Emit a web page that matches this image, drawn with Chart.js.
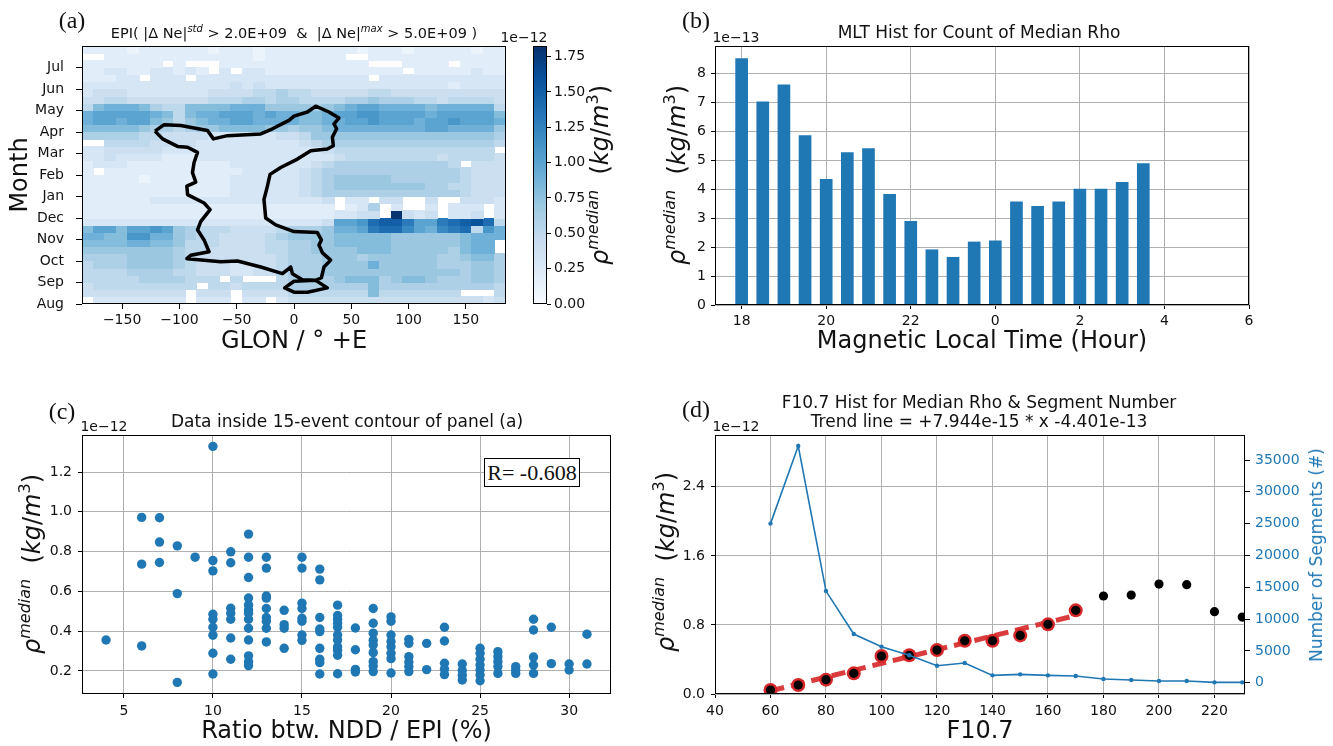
<!DOCTYPE html>
<html>
<head>
<meta charset="utf-8">
<script src="https://cdn.jsdelivr.net/npm/chart.js@4.4.1/dist/chart.umd.min.js"></script>
<style>
  body { margin: 0; background: #fff; font-family: 'DejaVu Sans', sans-serif; color: #111; }
  #fig { position: relative; width: 1333px; height: 746px; overflow: hidden; }
  canvas { position: absolute; }
  .txt { position: absolute; white-space: nowrap; transform: translate(-50%, -50%); }
  .rot { position: absolute; white-space: nowrap; transform: translate(-50%, -50%) rotate(-90deg); }
  .panel { font-family: 'Liberation Serif', 'Times New Roman', serif; font-size: 24px; }
  .ttl { font-size: 17px; }
  .off { font-size: 14px; }
  .rho { font-size: 24px; }
  .rho sup { font-size: 16px; font-style: italic; vertical-align: 0.6em; line-height: 0; }
  .sup { font-size: 10px; font-style: italic; vertical-align: 0.6em; line-height: 0; }
  .rbox { position: absolute; left: 484px; top: 458px; width: 94px; height: 27px; border: 1.5px solid #000;
          font-family: 'Liberation Serif', serif; font-size: 22px; line-height: 27px; text-align: center; background: #fff; }
</style>
</head>
<body>
<div id="fig">
  <canvas id="heat" width="520" height="360" style="left:0;top:0"></canvas>
  <canvas id="cbar" width="140" height="345" style="left:520px;top:0"></canvas>
  <canvas id="mlt" width="673" height="360" style="left:660px;top:0"></canvas>
  <canvas id="ratio" width="660" height="366" style="left:0;top:380px"></canvas>
  <canvas id="f107" width="673" height="366" style="left:660px;top:380px"></canvas>

  <div class="txt panel" style="left:72px;top:20px">(a)</div>
  <div class="txt panel" style="left:696px;top:20px">(b)</div>
  <div class="txt panel" style="left:62px;top:411px">(c)</div>
  <div class="txt panel" style="left:696px;top:409px">(d)</div>

  <div class="txt" style="left:294px;top:33px;font-size:14.5px">EPI( |Δ Ne|<span class="sup">std</span> &gt; 2.0E+09 &nbsp;&amp; &nbsp;|Δ Ne|<span class="sup">max</span> &gt; 5.0E+09 )</div>
  <div class="txt ttl" style="left:979px;top:32px">MLT Hist for Count of Median Rho</div>
  <div class="txt ttl" style="left:347px;top:421px">Data inside 15-event contour of panel (a)</div>
  <div class="txt ttl" style="left:979px;top:402px">F10.7 Hist for Median Rho &amp; Segment Number</div>
  <div class="txt ttl" style="left:979px;top:421px">Trend line = +7.944e-15 * x -4.401e-13</div>

  <div class="txt off" style="left:524px;top:37px">1e−12</div>
  <div class="txt off" style="left:736px;top:37px">1e−13</div>
  <div class="txt off" style="left:104px;top:426px">1e−12</div>
  <div class="txt off" style="left:736px;top:426px">1e−12</div>

  <div class="rot rho" style="left:600px;top:175px"><i>ρ</i><sup>median</sup>&nbsp;&nbsp;(<i>kg</i>/<i>m</i><sup style="font-style:normal">3</sup>)</div>
  <div class="rot rho" style="left:677px;top:175px"><i>ρ</i><sup>median</sup>&nbsp;&nbsp;(<i>kg</i>/<i>m</i><sup style="font-style:normal">3</sup>)</div>
  <div class="rot rho" style="left:32px;top:564px"><i>ρ</i><sup>median</sup>&nbsp;&nbsp;(<i>kg</i>/<i>m</i><sup style="font-style:normal">3</sup>)</div>
  <div class="rot rho" style="left:666px;top:562px"><i>ρ</i><sup>median</sup>&nbsp;&nbsp;(<i>kg</i>/<i>m</i><sup style="font-style:normal">3</sup>)</div>
  <div class="rot" style="left:1316px;top:555px;font-size:17px;color:#1f77b4">Number of Segments (#)</div>

  <div class="rbox">R= -0.608</div>
</div>

<script>
// ---------- panel (a): median rho by longitude / month ----------
const monthNames = ['Aug', 'Sep', 'Oct', 'Nov', 'Dec', 'Jan', 'Feb', 'Mar', 'Apr', 'May', 'Jun', 'Jul'];
const monthTicks = [0, 1, 2, 3, 4, 5, 6, 7, 8, 9, 10, 11];
const lonCenters = [-180, -170, -160, -150, -140, -130, -120, -110, -100, -90, -80, -70, -60, -50, -40, -30, -20, -10,
                    0, 10, 20, 30, 40, 50, 60, 70, 80, 90, 100, 110, 120, 130, 140, 150, 160, 170, 180];
const lonTicks = [-150, -100, -50, 0, 50, 100, 150];
const cbarTicks = [0, 0.25, 0.5, 0.75, 1.0, 1.25, 1.5, 1.75];
const rhoMax = 1.825;

// one string per 10-day row, bottom (Aug) first; char = rho*10 (a=1.0 ... i=1.8), '.' = no data
const rhoGrid = [
  '.33333333 .333.33.3 444444444 444444443 4',
  '444444444 .444.4444 555555585 555555... 5',
  '455555555 5.5545555 666666686 666666666 5',
  '555556666 555.5...5 666678886 788766677 6',
  '555566665 544433445 666777777 777777677 6',
  '566677776 544433445 666777797 777766677 6',
  '666677776 544444445 666777677 777766788 6',
  '777777776 554444455 667777888 777776899 .',
  '888899887 555444455 667788888 777777899 .',
  '9988bb997 655444456 777788888 777777899 9',
  '8aa8aaba7 655544445 666799ade eca9cde5b 9',
  '333333333 333333333 3334aabef fdaadefge 5',
  '222222222 222222222 22223344. i434.334. 3',
  '222222222 222222222 2222.236. 3..3.333. 3',
  '222222333 333333333 3334.33.4 4..4..444 3',
  '222222222 222233333 345666666 666666544 4',
  '222222222 222233333 345677777 777665544 4',
  '222221222 222233333 345677777 666666544 4',
  '2.2222222 222223333 345666666 666666544 4',
  '233322222 222233333 334566666 666665.44 4',
  '334333322 233333333 333345555 555545555 4',
  '334444433 333333333 333455555 555555555 .',
  '..5555444 433333333 345666666 666666666 5',
  '666665544 443333334 457777777 777777777 6',
  '888887665 677888877 677899999 999aa9999 7',
  '9aa9aa875 7899aa999 98899aaba aa9aabaaa 9',
  '9aaaaa985 899aaa9a9 9889aabba aaa9aaaaa 8',
  '589998655 888899977 776789aa9 999899999 5',
  '445544444 445556656 655556676 665545555 4',
  '344433333 334444556 554444455 444444444 4',
  '333333333 333343433 333333333 333332333 3',
  '22233.333 .33333333 3333333.3 333333333 3',
  '223322332 32.3.3322 222222222 2.2222232 2',
  '2222222.2 ...222222 2222222.. .2222.222 2',
  '..2222222 222222122 22222..22 222222222 2',
  '222212222 221222122 222222122 212222212 2'
];

// 15-event contour (lon, month)
const contourLon = [-121.3, -113.3, -98.8, -75.5, -70.3, -58.1, -29.0, -18.8, -4.4, 0, 11.7, 18.9, 30.5, 39.2, 34.9, 37.2,
  33.5, 34.3, 29.1, 14.6, 3.0, -11.6, -20.9, -23.2, -26.2, -24.7, -16.0, 0, 20.4, 23.9, 21.8, 24.8, 32.0, 26.2, 23.9, 18.9,
  29.1, 11.7, 0, -8.1, 0, 18.9, 7.3, -1.4, -2.9, -10.1, -29.0, -49.3, -63.9, -85.7, -93.5, -90.1, -74.1, -78.5, -84.2,
  -81.3, -73.2, -78.5, -92.9, -93.5, -85.7, -88.6, -87.2, -84.2, -92.9, -101.6, -114.7, -121.3];
const contourMonth = [8.04, 8.34, 8.30, 8.07, 7.68, 7.83, 7.91, 8.15, 8.54, 8.74, 8.93, 9.20, 8.93, 8.65, 8.38, 8.15,
  7.76, 7.36, 7.21, 7.13, 6.74, 6.35, 6.03, 5.48, 4.86, 4.00, 3.68, 3.37, 3.32, 2.98, 2.74, 2.38, 2.04, 1.72, 1.22, 1.10,
  0.75, 0.55, 0.55, 0.75, 1.06, 1.10, 1.13, 1.41, 1.72, 1.41, 1.72, 2.00, 1.96, 2.07, 2.11, 2.27, 2.43, 2.98, 3.45,
  3.84, 4.39, 4.70, 5.09, 5.48, 5.67, 6.11, 6.58, 7.05, 7.29, 7.33, 7.68, 8.04];

// ---------- panel (b): MLT ----------
const mltHour = [18, 18.5, 19, 19.5, 20, 20.5, 21, 21.5, 22, 22.5, 23, 23.5, 24, 24.5, 25, 25.5, 26, 26.5, 27, 27.5];
const mltRho = [8.53, 7.03, 7.62, 5.87, 4.35, 5.28, 5.42, 3.84, 2.90, 1.92, 1.66, 2.19, 2.23, 3.58, 3.42, 3.58, 4.02, 4.02, 4.25, 4.90];
const mltTicks = [18, 20, 22, 24, 26, 28, 30];
const mltYTicks = [0, 1, 2, 3, 4, 5, 6, 7, 8];

// ---------- panel (c): ratio scatter ----------
const ratioPct = [4, 6, 7, 8, 9, 10, 11, 12, 13, 14, 15, 16, 17, 18, 19, 20, 21, 22, 23, 24, 25, 26, 27, 28, 29, 30, 31];
const rhoAtRatio = [
  [0.356],
  [0.972, 0.737, 0.326],
  [0.97, 0.848, 0.745],
  [0.829, 0.589, 0.143],
  [0.772],
  [1.329, 0.755, 0.703, 0.485, 0.46, 0.42, 0.38, 0.289, 0.185],
  [0.799, 0.744, 0.515, 0.49, 0.46, 0.366, 0.259],
  [0.888, 0.772, 0.67, 0.567, 0.532, 0.507, 0.49, 0.46, 0.415, 0.356, 0.276, 0.247, 0.227],
  [0.772, 0.717, 0.577, 0.566, 0.514, 0.469, 0.45, 0.415, 0.346],
  [0.505, 0.433, 0.415, 0.314],
  [0.772, 0.717, 0.541, 0.514, 0.465, 0.45, 0.381, 0.354],
  [0.712, 0.658, 0.469, 0.411, 0.398, 0.314, 0.259, 0.242, 0.185],
  [0.531, 0.479, 0.46, 0.44, 0.42, 0.381, 0.356, 0.321, 0.304, 0.279, 0.186],
  [0.416, 0.307, 0.208, 0.195],
  [0.514, 0.44, 0.39, 0.354, 0.331, 0.292, 0.247, 0.225, 0.197],
  [0.472, 0.45, 0.381, 0.348, 0.322, 0.289, 0.262, 0.19],
  [0.359, 0.339, 0.272, 0.245, 0.222, 0.197],
  [0.339, 0.207],
  [0.42, 0.351, 0.239, 0.21, 0.182],
  [0.235, 0.202, 0.178, 0.155],
  [0.314, 0.289, 0.259, 0.23, 0.205, 0.18, 0.151],
  [0.297, 0.272, 0.247, 0.222, 0.188],
  [0.222, 0.205, 0.188],
  [0.46, 0.406, 0.27, 0.23, 0.188],
  [0.42, 0.237],
  [0.235, 0.205],
  [0.385, 0.235]
];
const ratioTicks = [5, 10, 15, 20, 25, 30];
const ratioYTicks = [0.2, 0.4, 0.6, 0.8, 1.0, 1.2];

// ---------- panel (d): F10.7 ----------
const f107 = [60, 70, 80, 90, 100, 110, 120, 130, 140, 150, 160, 170, 180, 190, 200, 210, 220, 230];
const rhoF107 = [0.046, 0.104, 0.166, 0.239, 0.44, 0.448, 0.509, 0.617, 0.617, 0.679, 0.807, 0.969, 1.135, 1.146, 1.273, 1.266, 0.953, 0.891];
const segCount = [25000, 37200, 14400, 7650, 5660, 4300, 2670, 3090, 1150, 1310, 1150, 1050, 580, 420, 260, 260, 50, 50];
const fitCount = 12; // points 60..170 used for the trend
const trendX = [60, 170];
const trendY = [0.037, 0.910];
const f107Ticks = [40, 60, 80, 100, 120, 140, 160, 180, 200, 220];
const f107YTicks = [0, 0.8, 1.6, 2.4];
const segTicks = [0, 5000, 10000, 15000, 20000, 25000, 30000, 35000];

// ---------- helpers ----------
Chart.defaults.font.family = "'DejaVu Sans', sans-serif";
Chart.defaults.color = '#111';

const blues = [[247, 251, 255], [222, 235, 247], [198, 219, 239], [158, 202, 225], [107, 174, 214],
               [66, 146, 198], [33, 113, 181], [8, 81, 156], [8, 48, 107]];
function bluesColor(t) {
  t = Math.min(Math.max(t, 0), 1) * 8;
  const i = Math.min(Math.floor(t), 7), f = t - i;
  const a = blues[i], b = blues[i + 1];
  return 'rgb(' + a.map((v, k) => Math.round(v + (b[k] - v) * f)).join(',') + ')';
}
const codes = '0123456789abcdefghi';

function fixed(vals) {
  return s => { s.ticks = vals.map(v => ({ value: v })); };
}
const tickFont = { size: 14 };
const minus = v => String(v).replace('-', '\u2212');

const heatmapPlugin = {
  id: 'heatmap',
  beforeDatasetsDraw(chart) {
    const { ctx, chartArea: ca } = chart;
    const x = chart.scales.x, y = chart.scales.y;
    ctx.save();
    ctx.beginPath();
    ctx.rect(ca.left, ca.top, ca.width, ca.height);
    ctx.clip();
    rhoGrid.forEach((row, r) => {
      const cells = row.replace(/ /g, '');
      const yt = Math.floor(y.getPixelForValue((r + 1) / 3));
      const yb = Math.ceil(y.getPixelForValue(r / 3));
      lonCenters.forEach((lon, c) => {
        const ch = cells[c];
        if (ch === '.') return;
        const xl = Math.floor(x.getPixelForValue(lon - 5));
        const xr = Math.ceil(x.getPixelForValue(lon + 5));
        ctx.fillStyle = bluesColor(codes.indexOf(ch) / 10 / rhoMax);
        ctx.fillRect(xl, yt, xr - xl, yb - yt);
      });
    });
    ctx.restore();
  }
};

const framePlugin = {
  id: 'frame',
  afterDatasetsDraw(chart) {
    const { ctx, chartArea: ca } = chart;
    ctx.save();
    ctx.strokeStyle = '#000';
    ctx.lineWidth = 1;
    ctx.strokeRect(Math.round(ca.left) + 0.5, Math.round(ca.top) + 0.5, Math.round(ca.width) - 1, Math.round(ca.height) - 1);
    ctx.restore();
  }
};

const base = {
  responsive: false,
  animation: false,
  events: [],
  plugins: { legend: { display: false }, tooltip: { enabled: false } }
};

// ---------- (a) heatmap + contour ----------
new Chart(document.getElementById('heat'), {
  type: 'scatter',
  data: {
    datasets: [{
      data: contourLon.map((v, i) => ({ x: v, y: contourMonth[i] })),
      showLine: true, borderColor: '#000', borderWidth: 3.5, pointRadius: 0,
      borderJoinStyle: 'round', tension: 0
    }]
  },
  options: {
    ...base,
    layout: { padding: { top: 46, right: 14, left: 0, bottom: 0 } },
    scales: {
      x: {
        type: 'linear', min: -185, max: 185,
        afterBuildTicks: fixed(lonTicks), afterFit: s => { s.height = 56; },
        ticks: { font: tickFont, color: '#111', padding: 3, maxRotation: 0, autoSkip: false, callback: minus },
        grid: { drawOnChartArea: false, tickColor: '#000', tickLength: 5 },
        border: { display: false },
        title: { display: true, text: 'GLON / ° +E', font: { size: 24 }, color: '#111', padding: { top: 0, bottom: 4 } }
      },
      y: {
        type: 'linear', min: 0, max: 12,
        afterBuildTicks: fixed(monthTicks), afterFit: s => { s.width = 82; },
        ticks: { font: tickFont, color: '#111', padding: 12, autoSkip: false, callback: v => monthNames[v] },
        grid: { drawOnChartArea: false, tickColor: '#000', tickLength: 6 },
        border: { display: false },
        title: { display: true, text: 'Month', font: { size: 24 }, color: '#111', padding: { top: 6, bottom: 0 } }
      }
    }
  },
  plugins: [heatmapPlugin, framePlugin]
});

// ---------- (a) colour bar ----------
new Chart(document.getElementById('cbar'), {
  type: 'bar',
  data: {
    labels: [''],
    datasets: [{
      data: [[0, rhoMax]],
      backgroundColor: c => {
        const ca = c.chart.chartArea;
        if (!ca) return '#6baed6';
        const g = c.chart.ctx.createLinearGradient(0, ca.bottom, 0, ca.top);
        blues.forEach((b, i) => g.addColorStop(i / 8, 'rgb(' + b.join(',') + ')'));
        return g;
      },
      borderWidth: 0, barPercentage: 1, categoryPercentage: 1
    }]
  },
  options: {
    ...base,
    layout: { padding: { left: 13, top: 46, bottom: 41, right: 0 } },
    scales: {
      x: { display: false },
      y: {
        position: 'right', min: 0, max: rhoMax,
        afterBuildTicks: fixed(cbarTicks), afterFit: s => { s.width = 113; },
        ticks: { font: tickFont, color: '#111', padding: 3, callback: v => v.toFixed(2) },
        grid: { drawOnChartArea: false, tickColor: '#000', tickLength: 4 },
        border: { display: false }
      }
    }
  },
  plugins: [framePlugin]
});

// ---------- (b) MLT bars ----------
const gridStyle = { color: '#b0b0b0', lineWidth: 1, tickColor: '#000', tickLength: 4 };
new Chart(document.getElementById('mlt'), {
  type: 'bar',
  data: {
    datasets: [{
      data: mltHour.map((h, i) => ({ x: h, y: mltRho[i] })),
      backgroundColor: '#1f77b4', barPercentage: 0.6, categoryPercentage: 1
    }]
  },
  options: {
    ...base,
    layout: { padding: { top: 46, right: 84, left: 0, bottom: 0 } },
    scales: {
      x: {
        type: 'linear', offset: false, min: 17.37, max: 30, z: 1,
        afterBuildTicks: fixed(mltTicks), afterFit: s => { s.height = 55; },
        ticks: { font: tickFont, color: '#111', padding: 4, maxRotation: 0, autoSkip: false, callback: v => String(v % 24) },
        grid: { ...gridStyle, offset: false },
        border: { display: false },
        title: { display: true, text: 'Magnetic Local Time (Hour)', font: { size: 24 }, color: '#111', padding: { top: 0, bottom: 4 } }
      },
      y: {
        min: 0, max: 8.95, z: 1,
        afterBuildTicks: fixed(mltYTicks), afterFit: s => { s.width = 55; },
        ticks: { font: tickFont, color: '#111', padding: 5 },
        grid: gridStyle,
        border: { display: false }
      }
    }
  },
  plugins: [framePlugin]
});

// ---------- (c) scatter ----------
const ratioPoints = [];
ratioPct.forEach((r, i) => rhoAtRatio[i].forEach(v => ratioPoints.push({ x: r, y: v })));
new Chart(document.getElementById('ratio'), {
  type: 'scatter',
  data: {
    datasets: [{ data: ratioPoints, pointRadius: 4.7, backgroundColor: '#1f77b4', borderWidth: 0 }]
  },
  options: {
    ...base,
    layout: { padding: { top: 55, right: 49, left: 0, bottom: 0 } },
    scales: {
      x: {
        type: 'linear', min: 2.65, max: 32.35, z: 1,
        afterBuildTicks: fixed(ratioTicks), afterFit: s => { s.height = 52; },
        ticks: { font: tickFont, color: '#111', padding: 5, maxRotation: 0, autoSkip: false },
        grid: gridStyle,
        border: { display: false },
        title: { display: true, text: 'Ratio btw. NDD / EPI (%)', font: { size: 24 }, color: '#111', padding: { top: 0, bottom: 0 } }
      },
      y: {
        min: 0.0844, max: 1.386, z: 1,
        afterBuildTicks: fixed(ratioYTicks), afterFit: s => { s.width = 82; },
        ticks: { font: tickFont, color: '#111', padding: 6, callback: v => v.toFixed(1) },
        grid: gridStyle,
        border: { display: false }
      }
    }
  },
  plugins: [framePlugin]
});

// ---------- (d) F10.7 ----------
new Chart(document.getElementById('f107'), {
  type: 'scatter',
  data: {
    datasets: [
      {
        data: f107.map((f, i) => ({ x: f, y: segCount[i] })), yAxisID: 'y2', showLine: true,
        borderColor: '#1f77b4', borderWidth: 1.6, pointRadius: 2.2, pointBackgroundColor: '#1f77b4', pointBorderWidth: 0, order: 0
      },
      {
        data: f107.map((f, i) => ({ x: f, y: rhoF107[i] })), yAxisID: 'y',
        pointRadius: 4.6, backgroundColor: '#000', borderWidth: 0, order: 1
      },
      {
        data: f107.slice(0, fitCount).map((f, i) => ({ x: f, y: rhoF107[i] })), yAxisID: 'y',
        pointRadius: 7, backgroundColor: '#d62728', borderWidth: 0, order: 2
      },
      {
        data: trendX.map((f, i) => ({ x: f, y: trendY[i] })), yAxisID: 'y', showLine: true,
        borderColor: 'rgba(214,39,40,0.9)', borderWidth: 5, borderDash: [14, 7], pointRadius: 0, order: 3
      }
    ]
  },
  options: {
    ...base,
    layout: { padding: { top: 55, right: 0, left: 0, bottom: 0 } },
    scales: {
      x: {
        type: 'linear', min: 40, max: 231,
        afterBuildTicks: fixed(f107Ticks), afterFit: s => { s.height = 52; },
        ticks: { font: tickFont, color: '#111', padding: 5, maxRotation: 0, autoSkip: false },
        grid: gridStyle,
        border: { display: false },
        title: { display: true, text: 'F10.7', font: { size: 24 }, color: '#111', padding: { top: 0, bottom: 0 } }
      },
      y: {
        min: 0, max: 3.0,
        afterBuildTicks: fixed(f107YTicks), afterFit: s => { s.width = 55; },
        ticks: { font: tickFont, color: '#111', padding: 6, callback: v => v.toFixed(1) },
        grid: gridStyle,
        border: { display: false }
      },
      y2: {
        position: 'right', min: -1780, max: 38930,
        afterBuildTicks: fixed(segTicks), afterFit: s => { s.width = 88; },
        ticks: { font: tickFont, color: '#1f77b4', padding: 5, callback: v => String(v) },
        grid: { drawOnChartArea: false, tickColor: '#000', tickLength: 5 },
        border: { display: false }
      }
    }
  },
  plugins: [framePlugin]
});
</script>
</body>
</html>
